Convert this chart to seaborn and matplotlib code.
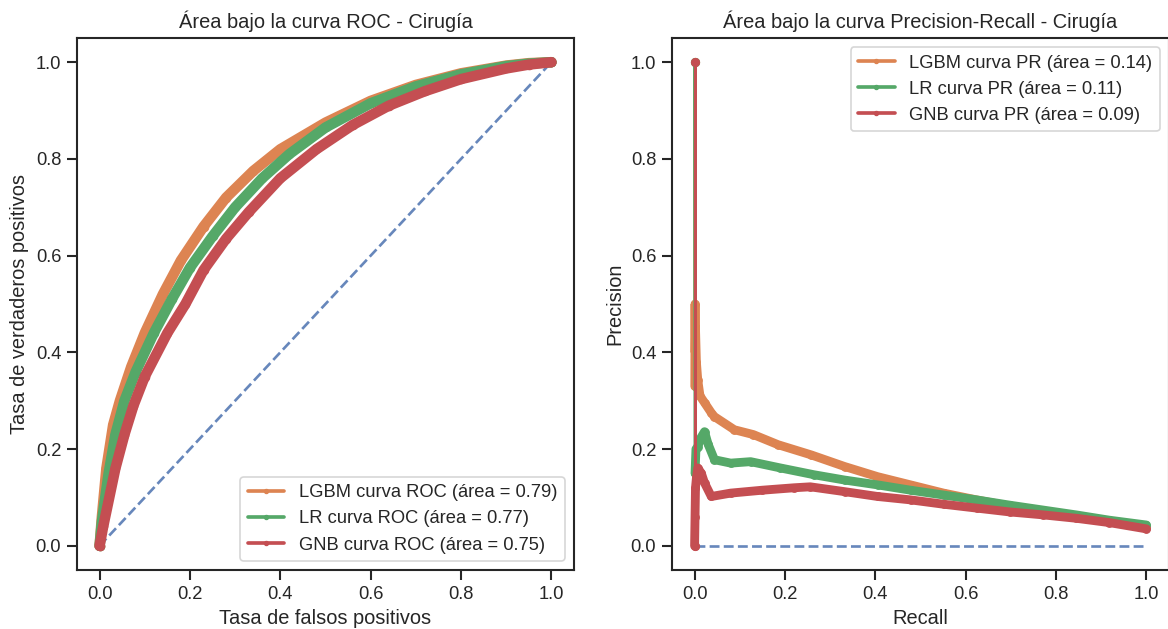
import matplotlib
matplotlib.use("Agg")
import matplotlib.pyplot as plt
import seaborn as sns

# ---------------- data ----------------
models = ["LGBM", "LR", "GNB"]
roc_auc = [0.79, 0.77, 0.75]
pr_auc = [0.14, 0.11, 0.09]

lgbm_fpr = [0.0, 0.005, 0.015, 0.03, 0.045, 0.07, 0.10, 0.14, 0.18, 0.23, 0.28, 0.34, 0.40, 0.50, 0.60, 0.70, 0.80, 0.90, 0.95, 1.0]
lgbm_tpr = [0.0, 0.06, 0.16, 0.25, 0.30, 0.37, 0.44, 0.52, 0.59, 0.66, 0.72, 0.775, 0.82, 0.875, 0.92, 0.953, 0.977, 0.993, 0.998, 1.0]

lr_fpr = [0.0, 0.005, 0.02, 0.035, 0.055, 0.08, 0.12, 0.16, 0.20, 0.25, 0.30, 0.36, 0.42, 0.50, 0.60, 0.70, 0.80, 0.90, 0.95, 1.0]
lr_tpr = [0.0, 0.05, 0.15, 0.23, 0.30, 0.36, 0.44, 0.51, 0.575, 0.64, 0.70, 0.76, 0.81, 0.865, 0.915, 0.95, 0.975, 0.992, 0.997, 1.0]

gnb_fpr = [0.0, 0.008, 0.035, 0.055, 0.075, 0.10, 0.15, 0.19, 0.23, 0.28, 0.33, 0.40, 0.48, 0.56, 0.64, 0.72, 0.80, 0.90, 0.95, 1.0]
gnb_tpr = [0.0, 0.04, 0.16, 0.23, 0.29, 0.35, 0.44, 0.50, 0.57, 0.635, 0.69, 0.76, 0.82, 0.87, 0.91, 0.94, 0.965, 0.987, 0.995, 1.0]

lgbm_recall = [0.0, 0.0005, 0.001, 0.0015, 0.002, 0.004, 0.007, 0.012, 0.022, 0.037, 0.044, 0.088, 0.13, 0.185, 0.258, 0.332, 0.405, 0.478, 0.551, 0.624, 0.698, 0.771, 0.844, 0.918, 1.0]
lgbm_precision = [1.0, 0.33, 0.50, 0.40, 0.45, 0.38, 0.343, 0.31, 0.296, 0.275, 0.267, 0.24, 0.23, 0.209, 0.188, 0.164, 0.143, 0.126, 0.109, 0.095, 0.082, 0.07, 0.06, 0.05, 0.039]

lr_recall = [0.0, 0.001, 0.003, 0.007, 0.015, 0.022, 0.03, 0.044, 0.08, 0.124, 0.19, 0.264, 0.332, 0.405, 0.478, 0.551, 0.624, 0.698, 0.771, 0.844, 0.918, 1.0]
lr_precision = [1.0, 0.15, 0.20, 0.205, 0.225, 0.236, 0.21, 0.178, 0.171, 0.174, 0.161, 0.147, 0.136, 0.126, 0.115, 0.105, 0.095, 0.084, 0.074, 0.064, 0.053, 0.043]

gnb_recall = [0.0, 0.0, 0.001, 0.002, 0.004, 0.007, 0.015, 0.022, 0.037, 0.08, 0.15, 0.22, 0.256, 0.332, 0.405, 0.478, 0.551, 0.624, 0.698, 0.771, 0.844, 0.918, 1.0]
gnb_precision = [1.0, 0.0, 0.06, 0.12, 0.14, 0.161, 0.15, 0.13, 0.102, 0.109, 0.115, 0.12, 0.122, 0.112, 0.102, 0.095, 0.086, 0.078, 0.07, 0.064, 0.057, 0.048, 0.035]

# ---------------- style ----------------
sns.set_theme(style="ticks", context="notebook", palette="deep")
plt.rcParams["font.family"] = ["Liberation Sans", "DejaVu Sans"]
pal = sns.color_palette("deep")
model_colors = [pal[1], pal[2], pal[3]]

DPI = 120
fig = plt.figure(figsize=(1168 / DPI, 629 / DPI), dpi=DPI)
W, H = 1168.0, 629.0
ax1 = fig.add_axes([77 / W, 1 - 570 / H, 497 / W, 532 / H])
ax2 = fig.add_axes([672 / W, 1 - 570 / H, 497 / W, 532 / H])

# ---------------- ROC ----------------
ax1.plot([0, 1], [0, 1], linestyle="--", color=pal[0], alpha=0.85, lw=1.6, zorder=1)
roc_data = [(lgbm_fpr, lgbm_tpr), (lr_fpr, lr_tpr), (gnb_fpr, gnb_tpr)]
for name, auc, (fx, ty), c in zip(models, roc_auc, roc_data, model_colors):
    sns.lineplot(x=fx, y=ty, ax=ax1, color=c, marker=".", markersize=10,
                 markeredgecolor=c, linewidth=6.3, sort=False, estimator=None,
                 solid_capstyle="round", solid_joinstyle="round",
                 label=f"{name} curva ROC (área = {auc:.2f})")
ax1.set_title("Área bajo la curva ROC - Cirugía")
ax1.set_xlabel("Tasa de falsos positivos")
ax1.set_ylabel("Tasa de verdaderos positivos")
leg1 = ax1.legend(loc="lower right")
for ln in leg1.get_lines():
    ln.set_linewidth(2.2)
    ln.set_markersize(5)

# ---------------- Precision-Recall ----------------
ax2.plot([0, 1], [0, 0], linestyle="--", color=pal[0], alpha=0.85, lw=1.6, zorder=1)
pr_data = [(lgbm_recall, lgbm_precision), (lr_recall, lr_precision), (gnb_recall, gnb_precision)]
for name, auc, (rx, py), c in zip(models, pr_auc, pr_data, model_colors):
    # thin segment from the (0, 1) end point, thick band for the dense rest
    ax2.plot(rx[:2], py[:2], color=c, lw=1.8, marker=".", markersize=9)
    sns.lineplot(x=rx[1:], y=py[1:], ax=ax2, color=c, marker=".", markersize=9,
                 markeredgecolor=c, linewidth=5.3, sort=False, estimator=None,
                 solid_capstyle="round", solid_joinstyle="round",
                 label=f"{name} curva PR (área = {auc:.2f})")
ax2.set_title("Área bajo la curva Precision-Recall - Cirugía")
ax2.set_xlabel("Recall")
ax2.set_ylabel("Precision")
leg2 = ax2.legend(loc="upper right")
for ln in leg2.get_lines():
    ln.set_linewidth(2.2)
    ln.set_markersize(5)

for ax in (ax1, ax2):
    ax.set_xlim(-0.05, 1.05)
    ax.set_ylim(-0.05, 1.05)
    ax.set_xticks([0, 0.2, 0.4, 0.6, 0.8, 1.0])
    ax.set_yticks([0, 0.2, 0.4, 0.6, 0.8, 1.0])

fig.savefig("out.png", dpi=DPI)
